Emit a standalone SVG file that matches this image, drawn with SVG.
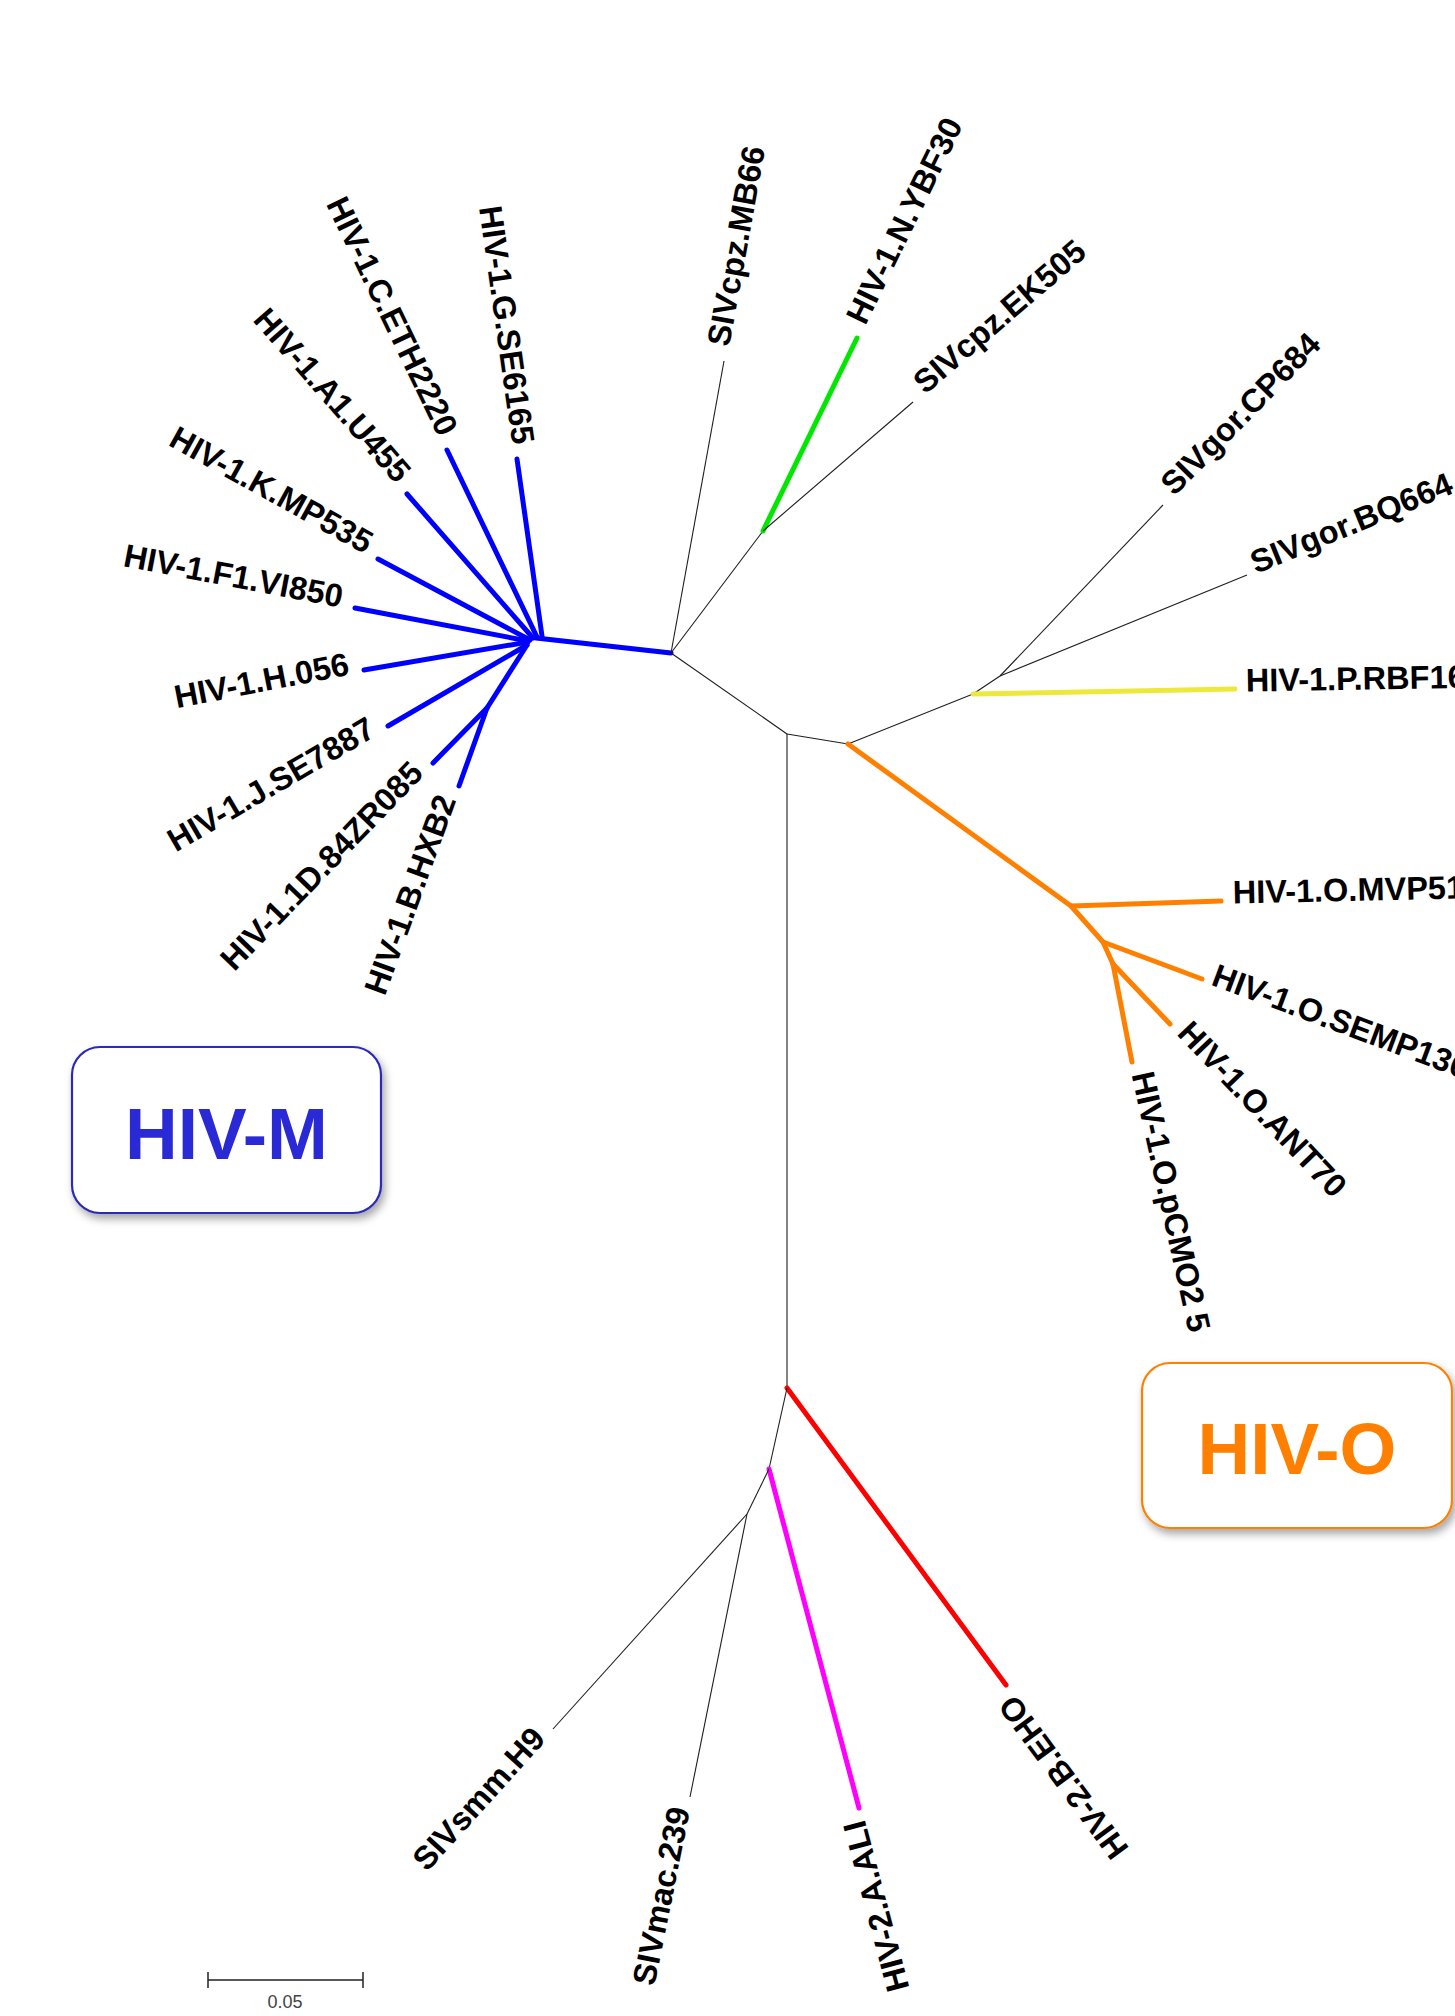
<svg xmlns="http://www.w3.org/2000/svg" width="1455" height="2016" viewBox="0 0 1455 2016">
<defs>
<style>
.lbl{font-family:"Liberation Sans",Arial,sans-serif;font-weight:bold;font-size:32.5px;fill:#000}
.end{text-anchor:end}
.thin{stroke:#1e1e1e;stroke-width:1.1;fill:none}
.thick{stroke-width:5;stroke-linecap:round;fill:none}
.blue{stroke:#0000ff}
.green{stroke:#00e800}
.yellow{stroke:#ece93c}
.orange{stroke:#ff8000}
.red{stroke:#ff0000}
.mag{stroke:#ff00ff}
.box{fill:#fff;stroke-width:2.2}
.big{font-family:"Liberation Sans",Arial,sans-serif;font-weight:bold;font-size:73px;text-anchor:middle}
</style>
<filter id="sh" x="-20%" y="-20%" width="150%" height="150%">
<feDropShadow dx="3" dy="5" stdDeviation="4" flood-color="#000" flood-opacity="0.35"/>
</filter>
</defs>
<rect width="1455" height="2016" fill="#fff"/>

<g id="connectors">
<!-- HIV-M (blue) -->
<line class="thick blue" x1="542" y1="636" x2="517" y2="459"/>
<line class="thick blue" x1="537" y1="637" x2="447" y2="450"/>
<line class="thick blue" x1="533" y1="638" x2="407" y2="494"/>
<line class="thick blue" x1="530" y1="640" x2="378" y2="559"/>
<line class="thick blue" x1="528" y1="641" x2="355" y2="608"/>
<line class="thick blue" x1="528" y1="642" x2="364" y2="670"/>
<line class="thick blue" x1="527" y1="645" x2="388" y2="726"/>
<line class="thick blue" x1="527" y1="645" x2="487" y2="708"/>
<line class="thick blue" x1="487" y1="708" x2="433" y2="763"/>
<line class="thick blue" x1="487" y1="708" x2="459" y2="786"/>
<line class="thick blue" x1="536" y1="638" x2="671" y2="653"/>
<!-- chimp clade -->
<line class="thin" x1="671" y1="653" x2="724" y2="361"/>
<line class="thin" x1="671" y1="653" x2="763" y2="531"/>
<line class="thick green" x1="763" y1="531" x2="857" y2="338"/>
<line class="thin" x1="763" y1="531" x2="913" y2="402"/>
<!-- backbone -->
<line class="thin" x1="671" y1="653" x2="787" y2="734"/>
<line class="thin" x1="787" y1="734" x2="848" y2="744"/>
<line class="thin" x1="848" y1="744" x2="973" y2="694"/>
<line class="thin" x1="973" y1="694" x2="1000" y2="676"/>
<line class="thin" x1="1000" y1="676" x2="1163" y2="505"/>
<line class="thin" x1="1000" y1="676" x2="1247" y2="575"/>
<line class="thick yellow" x1="973" y1="694" x2="1235" y2="689" stroke-linecap="butt"/>
<!-- HIV-O (orange) -->
<line class="thick orange" x1="848" y1="744" x2="1071" y2="906"/>
<line class="thick orange" x1="1071" y1="906" x2="1221" y2="901"/>
<line class="thick orange" x1="1071" y1="906" x2="1103" y2="942"/>
<line class="thick orange" x1="1103" y1="942" x2="1202" y2="979"/>
<line class="thick orange" x1="1103" y1="942" x2="1113" y2="964"/>
<line class="thick orange" x1="1113" y1="964" x2="1170" y2="1024"/>
<line class="thick orange" x1="1113" y1="964" x2="1132" y2="1062"/>
<!-- root and HIV-2 -->
<line class="thin" x1="787" y1="734" x2="787" y2="1388"/>
<line class="thick red" x1="787" y1="1388" x2="1006" y2="1685"/>
<line class="thin" x1="787" y1="1388" x2="769" y2="1469"/>
<line class="thick mag" x1="769" y1="1469" x2="859" y2="1808"/>
<line class="thin" x1="769" y1="1469" x2="747" y2="1514"/>
<line class="thin" x1="747" y1="1514" x2="553" y2="1729"/>
<line class="thin" x1="747" y1="1514" x2="690" y2="1797"/>
</g>

<g id="leaf-G"><text class="lbl end" transform="translate(515,445) rotate(82)" dy="0.08em">HIV-1.G.SE6165</text></g>
<g id="leaf-C"><text class="lbl end" transform="translate(441,437) rotate(64.3)" dy="0.08em">HIV-1.C.ETH2220</text></g>
<g id="leaf-A1"><text class="lbl end" transform="translate(398,483) rotate(48.8)" dy="0.08em">HIV-1.A1.U455</text></g>
<g id="leaf-K"><text class="lbl end" transform="translate(366,552) rotate(29)" dy="0.08em">HIV-1.K.MP535</text></g>
<g id="leaf-F1"><text class="lbl end" transform="translate(341,605) rotate(10.8)" dy="0.08em">HIV-1.F1.VI850</text></g>
<g id="leaf-H"><text class="lbl end" transform="translate(350,672) rotate(-11)" dy="0.08em">HIV-1.H.056</text></g>
<g id="leaf-J"><text class="lbl end" transform="translate(376,733) rotate(-30.2)" dy="0.08em">HIV-1.J.SE7887</text></g>
<g id="leaf-D"><text class="lbl end" transform="translate(423,773) rotate(-46)" dy="0.08em">HIV-1.1D.84ZR085</text></g>
<g id="leaf-B"><text class="lbl end" transform="translate(454,799) rotate(-70)" dy="0.08em">HIV-1.B.HXB2</text></g>

<g id="leaf-MB66"><text class="lbl" transform="translate(726.5,347) rotate(-79.7)" dy="0.08em">SIVcpz.MB66</text></g>
<g id="leaf-N"><text class="lbl" transform="translate(863,325) rotate(-64)" dy="0.08em">HIV-1.N.YBF30</text></g>
<g id="leaf-EK505"><text class="lbl" transform="translate(923.5,393) rotate(-40.7)" dy="0.08em">SIVcpz.EK505</text></g>
<g id="leaf-CP684"><text class="lbl" transform="translate(1172.5,495) rotate(-45.5)" dy="0.08em">SIVgor.CP684</text></g>
<g id="leaf-BQ664"><text class="lbl" transform="translate(1255,571.5) rotate(-22.2)" dy="0.08em">SIVgor.BQ664</text></g>
<g id="leaf-P"><text class="lbl" transform="translate(1246,689) rotate(-1)" dy="0.08em">HIV-1.P.RBF16</text></g>
<g id="leaf-MVP"><text class="lbl" transform="translate(1233,901) rotate(-1.3)" dy="0.08em">HIV-1.O.MVP51</text></g>
<g id="leaf-SEMP"><text class="lbl" transform="translate(1211,982) rotate(20.5)" dy="0.08em">HIV-1.O.SEMP130</text></g>
<g id="leaf-ANT70"><text class="lbl" transform="translate(1178,1032.5) rotate(46.5)" dy="0.08em">HIV-1.O.ANT70</text></g>
<g id="leaf-pCMO2"><text class="lbl" transform="translate(1134,1074) rotate(77.5)" dy="0.08em">HIV-1.O.pCMO2 5</text></g>

<g id="leaf-EHO"><text class="lbl end" transform="translate(1013,1694.5) rotate(233.6)" dy="0.08em">HIV-2.B.EHO</text></g>
<g id="leaf-ALI"><text class="lbl end" transform="translate(862,1819.5) rotate(255.1)" dy="0.08em">HIV-2.A.ALI</text></g>
<g id="leaf-mac"><text class="lbl end" transform="translate(687.5,1809) rotate(281.4)" dy="0.08em">SIVmac.239</text></g>
<g id="leaf-smm"><text class="lbl end" transform="translate(545,1738) rotate(-47.9)" dy="0.08em">SIVsmm.H9</text></g>

<g id="box-HIV-M">
<rect class="box" x="72" y="1047" width="309" height="166" rx="28" stroke="#2b2bb5" filter="url(#sh)"/>
<text class="big" x="226.5" y="1159" fill="#2929d6">HIV-M</text>
</g>
<g id="box-HIV-O">
<rect class="box" x="1142" y="1363" width="310" height="165" rx="28" stroke="#ff8000" filter="url(#sh)"/>
<text class="big" x="1297" y="1474" fill="#ff8000">HIV-O</text>
</g>

<g id="scale-bar">
<path d="M208 1980 H363 M208 1972 V1988 M363 1972 V1988" stroke="#222" stroke-width="1.5" fill="none"/>
<text x="285" y="2008" font-family="Liberation Sans, Arial, sans-serif" font-size="18" fill="#444" text-anchor="middle">0.05</text>
</g>
</svg>
